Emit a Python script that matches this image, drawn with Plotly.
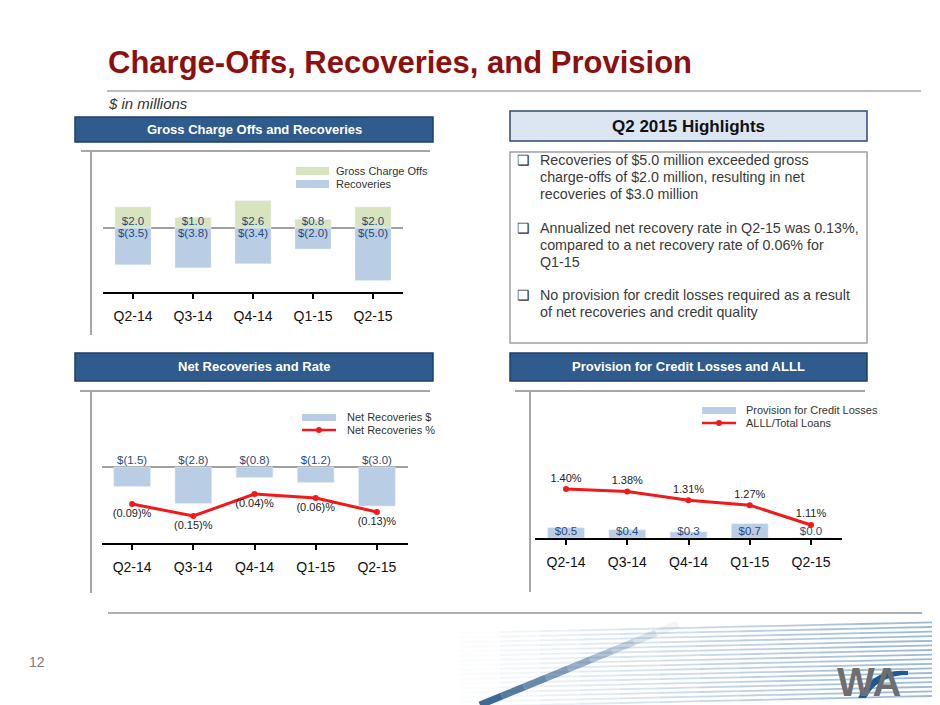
import plotly.graph_objects as go

# --- Data ---
quarters = ["Q2-14", "Q3-14", "Q4-14", "Q1-15", "Q2-15"]
gross_charge_offs = [2.0, 1.0, 2.6, 0.8, 2.0]
recoveries = [-3.5, -3.8, -3.4, -2.0, -5.0]
net_recoveries = [-1.5, -2.8, -0.8, -1.2, -3.0]
net_recovery_rate = [-0.09, -0.15, -0.04, -0.06, -0.13]
provision = [0.5, 0.4, 0.3, 0.7, 0.0]
alll_ratio = [1.40, 1.38, 1.31, 1.27, 1.11]

highlights = [
    ["Recoveries of $5.0 million exceeded gross",
     "charge-offs of $2.0 million, resulting in net",
     "recoveries of $3.0 million"],
    ["Annualized net recovery rate in Q2-15 was 0.13%,",
     "compared to a net recovery rate of 0.06% for",
     "Q1-15"],
    ["No provision for credit losses required as a result",
     "of net recoveries and credit quality"],
]

# page body has an 8px margin, so the figure is a bit smaller than the window
OFF = 8
W, H = 940 - OFF, 705 - OFF
FONT = "Arial, Liberation Sans, sans-serif"
GREEN = "#D7E4BD"
BLUE = "#B9CDE5"
RED = "#F01A1A"
LABEL_BLUE = "#2B4A7C"
HEADER_BLUE = "#2F5B8D"
FRAME_GRAY = "#A6A6A6"


def px(x):
    return (x - OFF) / W


def py(y):
    return 1 - (y - OFF) / H


def money(v):
    return f"${v:.1f}" if v >= 0 else f"$({abs(v):.1f})"


def pct(v):
    return f"{v:.2f}%" if v >= 0 else f"({abs(v):.2f})%"


fig = go.Figure()

# --- 1. Gross Charge Offs and Recoveries ---
fig.add_trace(go.Bar(x=quarters, y=gross_charge_offs, marker_color=GREEN, width=0.6,
                     xaxis="x", yaxis="y", name="Gross Charge Offs"))
fig.add_trace(go.Bar(x=quarters, y=recoveries, marker_color=BLUE, width=0.6,
                     xaxis="x", yaxis="y", name="Recoveries"))
fig.add_trace(go.Scatter(x=quarters, y=[0] * 5, mode="text",
                         text=[money(v) for v in gross_charge_offs], textposition="top center",
                         textfont=dict(size=11.5, color=LABEL_BLUE), cliponaxis=False,
                         xaxis="x", yaxis="y"))
fig.add_trace(go.Scatter(x=quarters, y=[0] * 5, mode="text",
                         text=[money(v) for v in recoveries], textposition="bottom center",
                         textfont=dict(size=11.5, color=LABEL_BLUE), cliponaxis=False,
                         xaxis="x", yaxis="y"))

# --- 2. Net Recoveries and Rate ---
fig.add_trace(go.Bar(x=quarters, y=net_recoveries, marker_color=BLUE, width=0.6,
                     xaxis="x2", yaxis="y2", name="Net Recoveries $"))
fig.add_trace(go.Scatter(x=quarters, y=[0] * 5, mode="text",
                         text=[money(v) for v in net_recoveries], textposition="top center",
                         textfont=dict(size=11.5, color=LABEL_BLUE), cliponaxis=False,
                         xaxis="x2", yaxis="y2"))
fig.add_trace(go.Scatter(x=quarters, y=net_recovery_rate, mode="lines+markers+text",
                         line=dict(color=RED, width=3), marker=dict(size=6, color=RED),
                         text=[pct(v) for v in net_recovery_rate], textposition="bottom center",
                         textfont=dict(size=11, color="#222222"), cliponaxis=False,
                         xaxis="x2", yaxis="y3", name="Net Recoveries %"))

# --- 3. Provision for Credit Losses and ALLL ---
fig.add_trace(go.Bar(x=quarters, y=provision, marker_color=BLUE, width=0.6,
                     xaxis="x3", yaxis="y4", name="Provision for Credit Losses"))
fig.add_trace(go.Scatter(x=quarters, y=[0] * 5, mode="text",
                         text=[money(v) for v in provision], textposition="top center",
                         textfont=dict(size=11.5, color=LABEL_BLUE), cliponaxis=False,
                         xaxis="x3", yaxis="y4"))
fig.add_trace(go.Scatter(x=quarters, y=alll_ratio, mode="lines+markers+text",
                         line=dict(color=RED, width=3), marker=dict(size=6, color=RED),
                         text=[f"{v:.2f}%" for v in alll_ratio], textposition="top center",
                         textfont=dict(size=11, color="#222222"), cliponaxis=False,
                         xaxis="x3", yaxis="y5", name="ALLL/Total Loans"))

xcommon = dict(type="category", range=[-0.5, 4.5], showline=True, linecolor="black",
               linewidth=2, ticks="outside", ticklen=5, tickwidth=1.5, tickcolor="black",
               tickfont=dict(size=14, color="#111111"), ticklabelstandoff=5,
               showgrid=False, zeroline=False, fixedrange=True)
yhidden = dict(showticklabels=False, showgrid=False, showline=False, ticks="",
               fixedrange=True)

fig.update_layout(
    width=W, height=H, autosize=False,
    margin=dict(l=0, r=0, t=0, b=0),
    paper_bgcolor="white", plot_bgcolor="rgba(0,0,0,0)",
    font=dict(family=FONT, color="#222222"),
    showlegend=False, barmode="overlay",
    xaxis=dict(domain=[px(103), px(403)], anchor="y", **xcommon),
    yaxis=dict(domain=[py(292), py(151)], range=[-6.1, 7.33], anchor="x",
               zeroline=True, zerolinecolor="#A0A0A0", zerolinewidth=2, **yhidden),
    xaxis2=dict(domain=[px(101.5), px(407.5)], anchor="y2", **xcommon),
    yaxis2=dict(domain=[py(543), py(391)], range=[-5.85, 5.85], anchor="x2",
                zeroline=True, zerolinecolor="#A0A0A0", zerolinewidth=2, **yhidden),
    yaxis3=dict(overlaying="y2", anchor="x2", side="right", range=[-0.285, 0.475],
                zeroline=False, **yhidden),
    xaxis3=dict(domain=[px(535.4), px(841.6)], anchor="y4", **xcommon),
    yaxis4=dict(domain=[py(538), py(391)], range=[0, 7.17], anchor="x3",
                zeroline=False, **yhidden),
    yaxis5=dict(overlaying="y4", anchor="x3", side="right", range=[1.005, 2.19],
                zeroline=False, **yhidden),
)

shapes = []
annotations = []


def rect(x0, y0, x1, y1, fill, line_color=None, line_width=0):
    shapes.append(dict(type="rect", xref="paper", yref="paper",
                       x0=px(x0), x1=px(x1), y0=py(y1), y1=py(y0),
                       fillcolor=fill, line=dict(color=line_color or fill, width=line_width),
                       layer="below"))


def hline(x0, x1, y, color, width, y2=None, opacity=1):
    shapes.append(dict(type="line", xref="paper", yref="paper",
                       x0=px(x0), x1=px(x1), y0=py(y), y1=py(y if y2 is None else y2),
                       line=dict(color=color, width=width), opacity=opacity, layer="below"))


def text(x, y, s, size, color="#222222", xanchor="left", bold=False, italic=False):
    if bold:
        s = f"<b>{s}</b>"
    if italic:
        s = f"<i>{s}</i>"
    annotations.append(dict(x=px(x), y=py(y), xref="paper", yref="paper", text=s,
                            showarrow=False, xanchor=xanchor, yanchor="middle",
                            font=dict(size=size, color=color, family=FONT)))


# Title and rules
text(106, 62, "Charge-Offs, Recoveries, and Provision", 31, color="#8B1111", bold=True)
hline(107, 921, 91, "#BDBDBD", 2)
text(106, 104, "$ in millions", 15, color="#333333", italic=True)
hline(108, 922, 613, "#AFAFAF", 2)
text(37, 662, "12", 14, color="#808080", xanchor="center")

# Section headers
for (x0, y0, x1, y1, label) in [(75, 117, 433, 142, "Gross Charge Offs and Recoveries"),
                                (75, 353, 433, 381, "Net Recoveries and Rate"),
                                (510, 353, 867, 381, "Provision for Credit Losses and ALLL")]:
    rect(x0, y0, x1, y1, HEADER_BLUE, "#1E3F69", 1.5)
    text((x0 + x1) / 2, (y0 + y1) / 2, label, 13, color="white", xanchor="center", bold=True)

rect(510, 111, 867, 141, "#DCE6F2", "#2B4A75", 1.5)
text(688, 126, "Q2 2015 Highlights", 17, color="#111111", xanchor="center", bold=True)

# Highlights box
rect(510, 152, 867, 343, "white", "#A0A0A0", 1.5)
bullet_y = [160, 228, 295]
for by, lines in zip(bullet_y, highlights):
    text(515, by, "❑", 14, color="#333333")
    for i, line in enumerate(lines):
        text(538, by + 17 * i, line, 14.3, color="#3A3A3A")

# Chart frames
hline(81, 430, 151, FRAME_GRAY, 2)
hline(91, 91, 151, FRAME_GRAY, 2, y2=335)
hline(80, 430, 391, FRAME_GRAY, 2)
hline(91, 91, 391, FRAME_GRAY, 2, y2=593)
hline(515, 865, 391, FRAME_GRAY, 2)
hline(530, 530, 391, FRAME_GRAY, 2, y2=592)

# Legends
rect(296, 167, 329, 175, GREEN)
text(334, 171, "Gross Charge Offs", 11, color="#333333")
rect(296, 180, 329, 188, BLUE)
text(334, 184, "Recoveries", 11, color="#333333")

rect(302, 414, 336, 421, BLUE)
text(345, 417, "Net Recoveries $", 11, color="#333333")
hline(302, 336, 430, RED, 2.5)
shapes.append(dict(type="circle", xref="paper", yref="paper", x0=px(316), x1=px(322),
                   y0=py(433), y1=py(427), fillcolor=RED, line=dict(color=RED, width=0)))
text(345, 430, "Net Recoveries %", 11, color="#333333")

rect(702, 407, 736, 414, BLUE)
text(744, 410, "Provision for Credit Losses", 11, color="#333333")
hline(702, 736, 423, RED, 2.5)
shapes.append(dict(type="circle", xref="paper", yref="paper", x0=px(716), x1=px(722),
                   y0=py(426), y1=py(420), fillcolor=RED, line=dict(color=RED, width=0)))
text(744, 423, "ALLL/Total Loans", 11, color="#333333")

# Footer decoration (stripes + diagonal streak)
for i in range(17):
    yl = 633 + i * 4.6
    for k in range(12):
        xa = 460 + k * 40
        op = min(0.6, 0.02 + 0.055 * k)
        hline(xa, xa + 40, yl - k * 0.9, "#5B8DB8", 1.8, y2=yl - (k + 1) * 0.9, opacity=op)
for k in range(9):
    xa = 480 + k * 22
    ya = 705 - k * 9
    hline(xa, xa + 22, ya, "#1F4F82", 7, y2=ya - 9, opacity=max(0.05, 0.85 - k * 0.1))

# Logo
text(869, 682, "WA", 40, color="#6D6E71", xanchor="center", bold=True)
shapes.append(dict(type="path", xref="paper", yref="paper",
                   path=f"M {px(858)},{py(698)} Q {px(872)},{py(668)} {px(908)},{py(671)} "
                        f"L {px(908)},{py(675)} Q {px(878)},{py(675)} {px(866)},{py(698)} Z",
                   fillcolor="#1F5A94", line=dict(color="#1F5A94", width=0)))

fig.update_layout(shapes=shapes, annotations=annotations)

fig.write_html("out.html")
